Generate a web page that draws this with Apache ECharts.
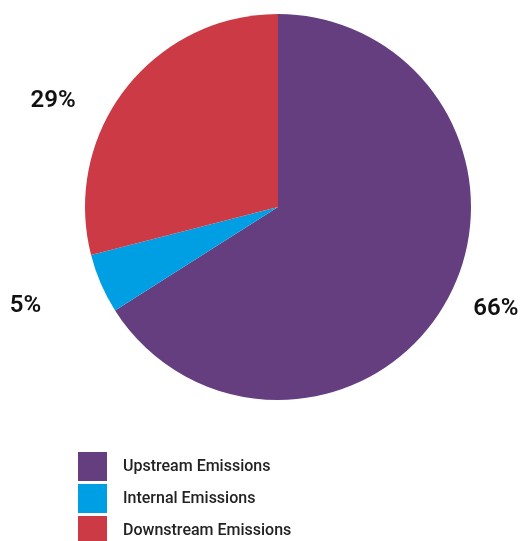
<!DOCTYPE html>
<html>
<head>
<meta charset="utf-8">
<script src="https://cdn.jsdelivr.net/npm/echarts@6/dist/echarts.min.js"></script>
<style>html,body{margin:0;padding:0;background:#fff}#c{width:523px;height:541px}</style>
</head>
<body>
<div id="c"></div>
<script>
const categories = ['Upstream Emissions', 'Internal Emissions', 'Downstream Emissions'];
const values = [66, 5, 29];
const colors = ['#653E80', '#009FE3', '#CC3A46'];
const labelShift = [[8, 2], [-41, 16], [-33, 21]];

const chart = echarts.init(document.getElementById('c'), null, {renderer: 'canvas'});
chart.setOption({
  animation: false,
  color: colors,
  legend: {
    orient: 'vertical',
    left: 78,
    top: 452,
    height: 110,
    padding: 0,
    itemWidth: 29,
    itemHeight: 29,
    itemGap: 3,
    icon: 'rect',
    selectedMode: false,
    textStyle: {fontFamily: 'Roboto', fontSize: 16, fontWeight: 500, color: '#222', padding: [4, 0, 0, 11]},
    data: categories
  },
  series: [{
    type: 'pie',
    center: [278, 207],
    radius: 193,
    startAngle: 90,
    clockwise: true,
    avoidLabelOverlap: false,
    itemStyle: {borderWidth: 0},
    label: {
      show: true,
      position: 'outside',
      formatter: '{c}%',
      fontFamily: 'Roboto',
      fontSize: 24,
      fontWeight: 600,
      color: '#111'
    },
    labelLine: {show: false, length: 15, length2: 0},
    labelLayout: function (p) { return {dx: labelShift[p.dataIndex][0], dy: labelShift[p.dataIndex][1]}; },
    emphasis: {disabled: true},
    data: categories.map((n, i) => ({name: n, value: values[i]}))
  }]
});
</script>
</body>
</html>
